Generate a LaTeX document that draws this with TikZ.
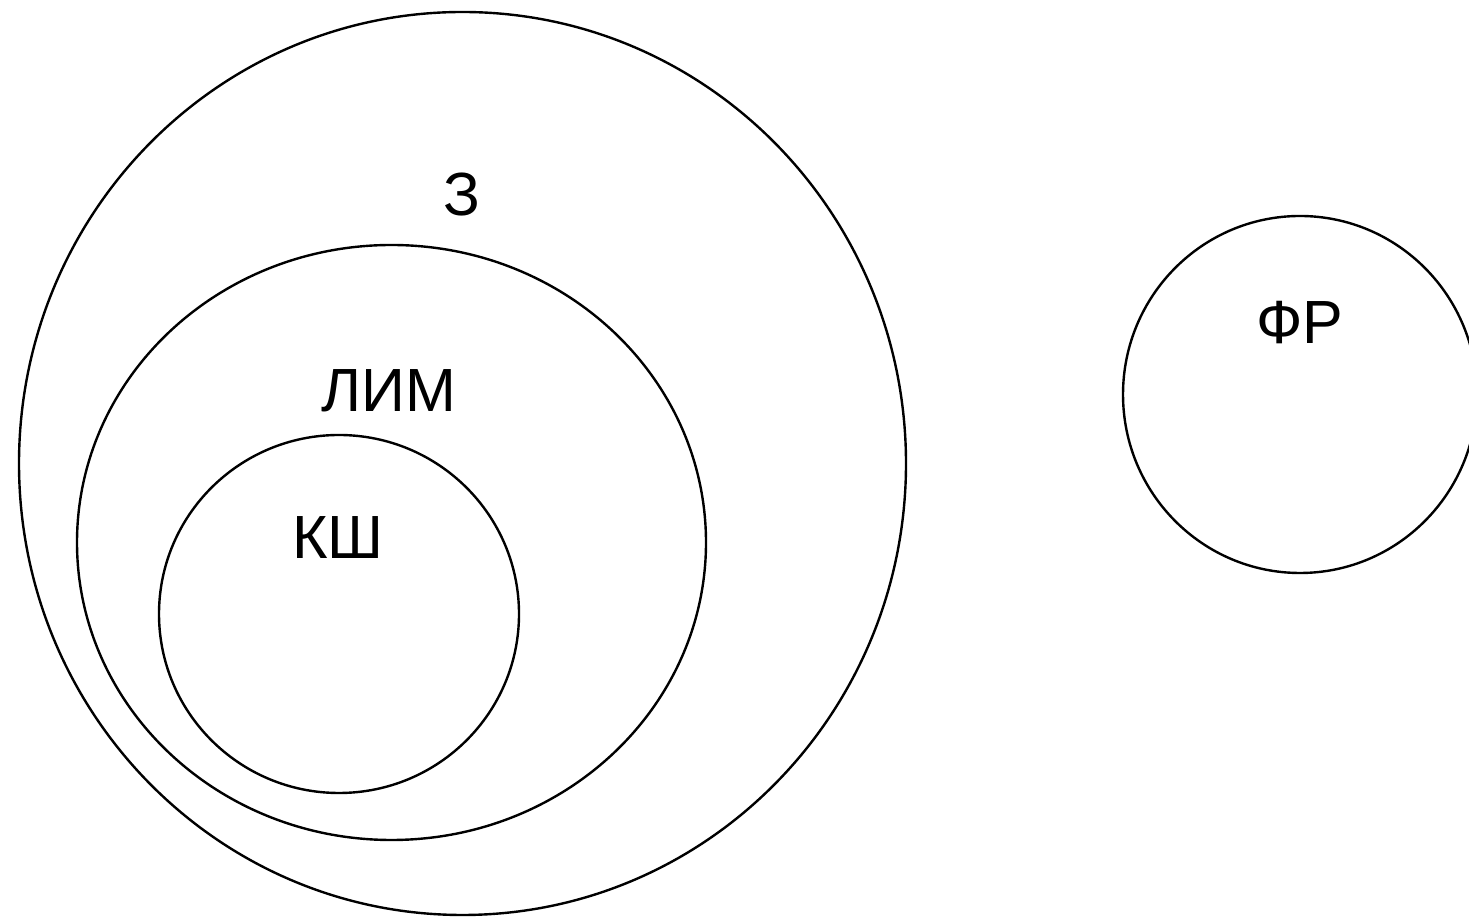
\documentclass[tikz,border=0pt]{standalone}
\usepackage{fontspec}
\setmainfont{Liberation Sans}
\usetikzlibrary{shapes.geometric}
\tikzset{
  ring/.style={draw=black, line width=2.4pt, ellipse, inner sep=0pt},
  lbl/.style={font=\fontsize{61}{63}\selectfont, text=black, inner sep=0pt}
}
\begin{document}
\begin{tikzpicture}[x=1pt,y=1pt]
\useasboundingbox (0,0) rectangle (1469,917);
\begin{scope}
\clip (0,0) rectangle (1469,917);
\node[ring, minimum width=887pt, minimum height=903pt] (z) at (462.5,453.5) {};
\node[ring, minimum width=629pt, minimum height=595pt] (lim) at (391.5,374.5) {};
\node[ring, minimum width=360pt, minimum height=358pt] (ksh) at (339,303) {};
\node[ring, minimum width=354pt, minimum height=357pt] (fr) at (1300,522.5) {};
\end{scope}
\node[lbl] (tz) at (462,722) {З};
\node[lbl] (tlim) at (389,526) {ЛИМ};
\node[lbl] (tksh) at (338,379) {КШ};
\node[lbl] (tfr) at (1300,594) {ФР};
\end{tikzpicture}
\end{document}
